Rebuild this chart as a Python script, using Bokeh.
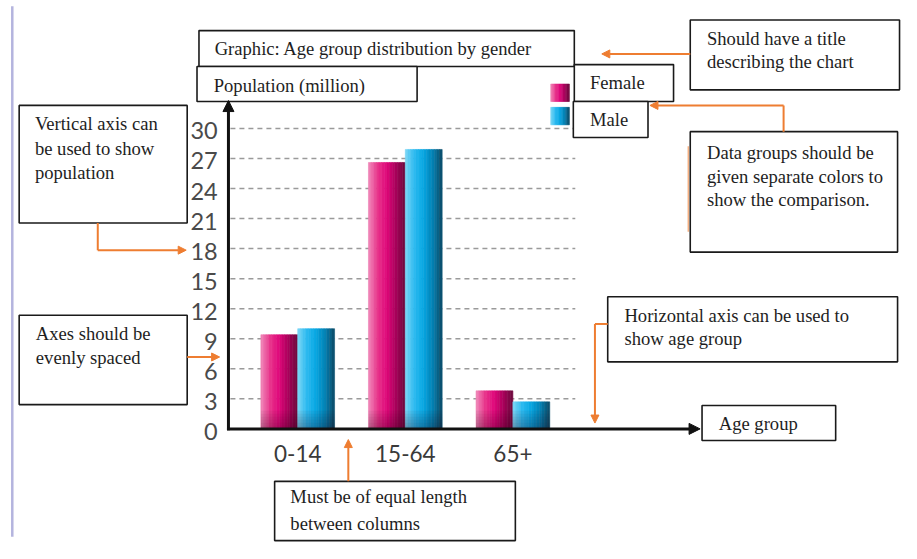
import numpy as np
from bokeh.plotting import figure
from bokeh.models import Range1d, Arrow, NormalHead
from bokeh.core.properties import value
from bokeh.embed import file_html
from bokeh.resources import INLINE

# ---------------- data ----------------
age_groups = ["0-14", "15-64", "65+"]
female = [9.4, 26.6, 3.8]
male = [10.0, 27.9, 2.7]
y_ticks = [0, 3, 6, 9, 12, 15, 18, 21, 24, 27, 30]
series_names = ["Female", "Male"]
title_text = "Graphic: Age group  distribution by gender"
y_title = "Population (million)"
x_title = "Age group"

# ---------------- layout helpers (reference pixel -> data) ----------------
W, H = 901, 543
REF_W, REF_H = 917, 559
FS = 0.98  # font scale (figure is slightly smaller than the reference canvas)
PX_PER_CAT = 109.5
CAT0_X = 302.5
PX_PER_UNIT = 10.31
ZERO_Y = 441


def X(px):
    return (px - CAT0_X) / PX_PER_CAT


def Y(py):
    return (ZERO_Y - py) / PX_PER_UNIT


def fs(px):
    return "%.1fpx" % (px * FS)


p = figure(width=W, height=H,
           x_range=Range1d(X(0), X(REF_W)),
           y_range=Range1d(Y(REF_H), Y(0)),
           output_backend="svg", toolbar_location=None,
           x_axis_location=None, y_axis_location=None, min_border=0)
p.grid.visible = False
p.xgrid.visible = False
p.ygrid.visible = False
p.outline_line_color = None
p.background_fill_color = "white"
p.border_fill_color = "white"

ORANGE = "#ee7d31"
SERIF = value("Liberation Serif")
SANS = value("Lato")

# left purple rule
p.segment(x0=[X(12)], y0=[Y(6)], x1=[X(12)], y1=[Y(552)], line_color="#b4b4de", line_width=2.5)

# dashed gridlines
gt = y_ticks[1:]
p.segment(x0=[X(234)] * len(gt), x1=[X(585)] * len(gt), y0=gt, y1=gt,
          line_color="#9a9a9a", line_width=1.5, line_dash="5 4")


def hex2rgb(h):
    h = h.lstrip("#")
    return np.array([int(h[i:i + 2], 16) for i in (0, 2, 4)], dtype=float)


def lerp(stops, t):
    n = len(stops) - 1
    k = min(int(t * n), n - 1)
    f = t * n - k
    c = hex2rgb(stops[k]) * (1 - f) + hex2rgb(stops[k + 1]) * f
    return "#%02x%02x%02x" % tuple(int(round(v)) for v in c)


female_stops = ["#f08cbb", "#e8368c", "#e0077a", "#a8005a", "#6a0a3c"]
male_stops = ["#7fd8f6", "#2cbaf0", "#06a6e2", "#0381b3", "#0c4a66"]

bar_w = 37.5 / PX_PER_CAT
NS = 14


def grad_bars(xc_list, tops, bottoms, width, stops):
    L, R, T, B, C = [], [], [], [], []
    for xc, top, bot in zip(xc_list, tops, bottoms):
        left = xc - width / 2
        for j in range(NS):
            L.append(left + j * width / NS)
            R.append(left + (j + 1) * width / NS)
            T.append(top)
            B.append(bot)
            C.append(lerp(stops, (j + 0.5) / NS))
    p.quad(left=L, right=R, top=T, bottom=B, fill_color=C, line_color=C, line_width=0.6)


idx = np.arange(len(age_groups))
grad_bars(idx - bar_w / 2, female, [0] * 3, bar_w, female_stops)
grad_bars(idx + bar_w / 2, male, [0] * 3, bar_w, male_stops)
# soft darker shading at the base of the bars
for k in range(6):
    p.quad(left=list(idx - bar_w), right=list(idx + bar_w),
           top=[0.3 * (k + 1)] * 3, bottom=[0] * 3,
           fill_color="#20000f", fill_alpha=0.05, line_color=None)

# y tick labels
p.text(x=[X(221)] * len(y_ticks), y=[t - 0.25 for t in y_ticks], text=[str(t) for t in y_ticks],
       text_align="right", text_baseline="middle", text_font=SANS, text_font_size=fs(24),
       text_color="#4a4a4a")

# x tick labels
p.text(x=list(idx), y=[Y(466)] * 3, text=age_groups, text_align="center", text_baseline="middle",
       text_font=SANS, text_font_size=fs(23), text_color="#3a3a3a")

# annotation boxes (reference pixels: left, top, right, bottom)
boxes = [
    (202, 31, 584, 68),
    (200, 68, 424, 104),
    (19, 108, 190, 229),
    (19, 324, 190, 416),
    (279, 495, 524, 556),
    (714, 417, 850, 453),
    (618, 305, 913, 372),
    (702, 20, 915, 92),
    (584, 66, 685, 104),
    (583, 104, 659, 141),
    (702, 135, 913, 259),
]
p.quad(left=[X(b[0]) for b in boxes], right=[X(b[2]) for b in boxes],
       top=[Y(b[1]) for b in boxes], bottom=[Y(b[3]) for b in boxes],
       fill_color="white", line_color="#1a1a1a", line_width=1.6)

# legend swatches
grad_bars([X(569.5)], [Y(86)], [Y(104)], 19 / PX_PER_CAT, female_stops)
grad_bars([X(569.5)], [Y(110)], [Y(128)], 19 / PX_PER_CAT, male_stops)

# texts (x, y-center, text) in reference pixels
texts = [
    (218, 49, title_text),
    (217, 87, y_title),
    (35, 127, "Vertical axis can"),
    (35, 152, "be used to show"),
    (35, 177, "population"),
    (36, 343, "Axes should be"),
    (36, 368, "evenly spaced"),
    (295, 511, "Must be of equal length"),
    (295, 538, "between columns"),
    (731, 435, x_title),
    (635, 324, "Horizontal axis can be used to"),
    (635, 348, "show age group"),
    (719, 39, "Should have a title"),
    (719, 63, "describing the chart"),
    (600, 84, series_names[0]),
    (600, 122, series_names[1]),
    (719, 156, "Data groups should be"),
    (719, 181, "given separate colors to"),
    (719, 205, "show the comparison."),
]
p.text(x=[X(t[0]) for t in texts], y=[Y(t[1]) for t in texts], text=[t[2] for t in texts],
       text_align="left", text_baseline="middle", text_font=SERIF, text_font_size=fs(19),
       text_color="#1e1e1e")

# black axes with arrow heads
p.add_layout(Arrow(end=NormalHead(size=11, fill_color="#111111", line_color="#111111"),
                   x_start=X(232), y_start=Y(442.5), x_end=X(232), y_end=Y(103),
                   line_color="#111111", line_width=3))
p.add_layout(Arrow(end=NormalHead(size=11, fill_color="#111111", line_color="#111111"),
                   x_start=X(230.5), y_start=Y(441), x_end=X(712), y_end=Y(441),
                   line_color="#111111", line_width=3))

# orange callout connectors
polylines = [
    [(797, 135), (797, 108)],
    [(99, 229), (99, 257)],
    [(618, 333), (605, 333)],
]
for pl in polylines:
    p.line(x=[X(a) for a, b in pl], y=[Y(b) for a, b in pl], line_color=ORANGE, line_width=2)
p.line(x=[X(700), X(700)], y=[Y(150), Y(238)], line_color=ORANGE, line_width=1.5, line_alpha=0.6)

arrows = [
    ((702, 55), (612, 55)),
    ((797, 108), (661, 108)),
    ((99, 257), (189, 257)),
    ((190, 367), (223, 367)),
    ((354, 495), (354, 452)),
    ((605, 333), (605, 435)),
]
for (x0, y0), (x1, y1) in arrows:
    p.add_layout(Arrow(end=NormalHead(size=8, fill_color=ORANGE, line_color=ORANGE),
                       x_start=X(x0), y_start=Y(y0), x_end=X(x1), y_end=Y(y1),
                       line_color=ORANGE, line_width=2))

open("out.html", "w").write(file_html(p, INLINE))
